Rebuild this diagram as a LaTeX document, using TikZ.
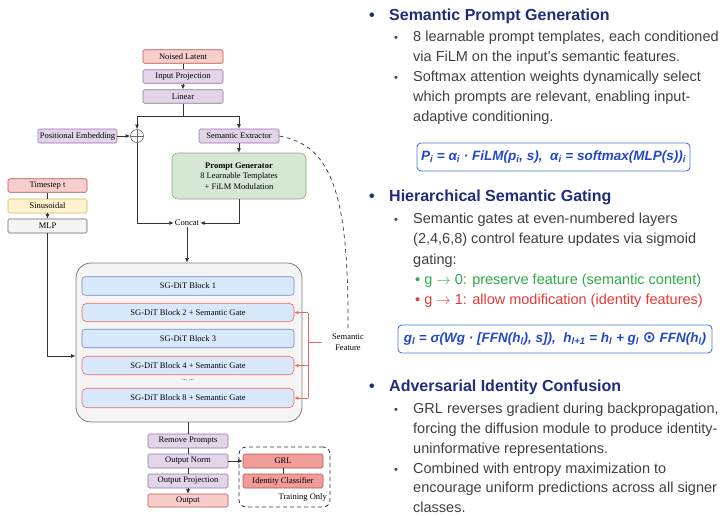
\documentclass[tikz,border=0pt]{standalone}
\usepackage{fontspec}
\setmainfont{Liberation Serif}
\newfontfamily\arial{Liberation Sans}
\newfontfamily\dejavu{DejaVu Sans}
\usetikzlibrary{arrows.meta,calc}
\definecolor{redfill}{HTML}{F8CECC}
\definecolor{reddraw}{HTML}{B85450}
\definecolor{purfill}{HTML}{E1D5E7}
\definecolor{purdraw}{HTML}{9673A6}
\definecolor{grnfill}{HTML}{D5E8D4}
\definecolor{grndraw}{HTML}{82B366}
\definecolor{yelfill}{HTML}{FFF2CC}
\definecolor{yeldraw}{HTML}{D6B656}
\definecolor{gryfill}{HTML}{F5F5F5}
\definecolor{grydraw}{HTML}{666666}
\definecolor{blufill}{HTML}{DAE8FC}
\definecolor{bludraw}{HTML}{6C8EBF}
\definecolor{gatedraw}{HTML}{EA6B66}
\definecolor{grlfill}{HTML}{F19C99}
\definecolor{headc}{HTML}{1F2D7B}
\definecolor{bodyc}{HTML}{404040}
\definecolor{okgreen}{HTML}{2EAA4A}
\definecolor{badred}{HTML}{E53935}
\definecolor{formblue}{HTML}{2447C9}
\definecolor{formbox}{HTML}{4A78D6}
\definecolor{linec}{HTML}{333333}
\begin{document}
\begin{tikzpicture}[x=1pt,y=-1pt,
  sfont/.style={font=\fontsize{8.5}{10.5}\selectfont},
  box/.style={draw, rounded corners=1.5pt, line width=0.6pt, minimum width=80pt, minimum height=13.5pt, inner sep=0pt, sfont},
  redbox/.style={box, fill=redfill, draw=reddraw},
  purbox/.style={box, fill=purfill, draw=purdraw},
  yelbox/.style={box, fill=yelfill, draw=yeldraw},
  grybox/.style={box, fill=gryfill, draw=grydraw},
  grlbox/.style={box, fill=grlfill, draw=reddraw},
  blk/.style={draw=bludraw, fill=blufill, line width=0.6pt, rounded corners=3pt, minimum width=212pt, minimum height=18.5pt, inner sep=0pt, sfont},
  gateblk/.style={blk, draw=gatedraw, rounded corners=5pt},
  ln/.style={draw=linec, line width=0.8pt},
  arr/.style={ln, -{Latex[length=4.5pt,width=4pt]}},
  gl/.style={draw=gatedraw, line width=0.7pt},
  garr/.style={gl, -{Latex[length=4pt,width=3.5pt]}},
  head/.style={anchor=base west, inner sep=0pt, text=headc, font=\arial\bfseries\fontsize{16}{19}\selectfont},
  body/.style={anchor=base west, inner sep=0pt, text=bodyc, font=\arial\fontsize{14.5}{20}\selectfont},
  sbul/.style={anchor=base west, inner sep=0pt, text=bodyc, font=\arial\fontsize{11}{14}\selectfont},
  fbox/.style={draw=formbox, line width=0.9pt, rounded corners=4pt, inner sep=0pt, text=formblue, font=\arial\bfseries\itshape\fontsize{13.5}{16}\selectfont}
]
\useasboundingbox (0,0) rectangle (724,515);

% ---------- left diagram ----------
\node[redbox] (nl) at (183,56.5) {Noised Latent};
\node[purbox] (ip) at (183,76.5) {Input Projection};
\node[purbox] (lin) at (183,96.5) {Linear};
\coordinate (j) at (183,116);
\node[purbox, minimum width=79pt, minimum height=14pt] (pe) at (77.5,136) {Positional Embedding};
\node[circle, draw=grydraw, fill=white, line width=0.6pt, minimum size=13pt, inner sep=0pt,
  path picture={\draw[grydraw, line width=0.6pt] (path picture bounding box.north) -- (path picture bounding box.south) (path picture bounding box.west) -- (path picture bounding box.east);}] (plus) at (137,136) {};
\node[purbox, minimum height=14pt] (se) at (239,136) {Semantic Extractor};
\node[box, fill=grnfill, draw=grndraw, rounded corners=6pt, minimum width=134pt, minimum height=46pt, align=center] (pg) at (239,176)
  {\textbf{Prompt Generator}\\8 Learnable Templates\\+ FiLM Modulation};
\node[sfont, inner sep=1pt] (concat) at (187,223) {Concat};

\node[redbox, minimum width=79pt] (ts) at (47.5,185.5) {Timestep t};
\node[yelbox, minimum width=79pt, minimum height=14pt] (sin) at (47.5,206) {Sinusoidal};
\node[grybox, minimum width=79pt, minimum height=14pt] (mlp) at (47.5,226) {MLP};

\node[draw=grydraw!85, fill=gryfill, line width=0.8pt, rounded corners=15pt, minimum width=226pt, minimum height=159pt, inner sep=0pt] (big) at (189,342.5) {};
\node[blk] (b1) at (188,286) {SG-DiT Block 1};
\node[gateblk] (b2) at (188,312.5) {SG-DiT Block 2 + Semantic Gate};
\node[blk] (b3) at (188,338.5) {SG-DiT Block 3};
\node[gateblk] (b4) at (188,365.5) {SG-DiT Block 4 + Semantic Gate};
\node[font=\fontsize{6.5}{8}\selectfont, inner sep=0pt] (dots) at (188,380.5) {... ...};
\node[gateblk, minimum height=19.5pt] (b8) at (188,398) {SG-DiT Block 8 + Semantic Gate};

\node[purbox, minimum height=14pt] (rp) at (188,441) {Remove Prompts};
\node[purbox, minimum height=14pt] (on) at (188,461) {Output Norm};
\node[purbox, minimum height=14pt] (opj) at (188,481) {Output Projection};
\node[redbox, minimum height=13pt] (out) at (188,500.5) {Output};

\node[draw=linec, dashed, dash pattern=on 4pt off 3pt, line width=0.8pt, rounded corners=7pt, minimum width=91pt, minimum height=60pt, inner sep=0pt] (train) at (284.5,477) {};
\node[grlbox, minimum height=14pt] (grl) at (283,461) {GRL};
\node[grlbox, minimum height=14pt] (ic) at (283,481) {Identity Classifier};
\node[sfont, anchor=east, inner sep=0pt] (tolab) at (327,497) {Training Only};

\node[sfont, align=center, inner sep=0pt, font=\fontsize{8.5}{11}\selectfont] (sf) at (348,342.5) {Semantic\\Feature};

% connectors
\draw[ln] (nl.south) -- (ip.north);
\draw[arr] (ip.south) -- (lin.north);
\draw[ln] (lin.south) -- (j);
\draw[arr] (j) -| (plus.north);
\draw[arr] (j) -| (se.north);
\draw[arr] (pe.east) -- (plus.west);
\draw[arr] (se.south) -- (pg.north);
\draw[arr] (plus.south) |- (concat.west);
\draw[arr] (pg.south) |- (concat.east);
\draw[arr] (concat.south) -- (concat.south |- big.north);
\draw[ln] (ts.south) -- (sin.north);
\draw[arr] (sin.south) -- (mlp.north);
\draw[arr] (mlp.south) |- (big.west |- b4.north);
\draw[ln] (big.south -| rp.north) -- (rp.north);
\draw[ln] (rp.south) -- (on.north);
\draw[ln] (on.south) -- (opj.north);
\draw[arr] (opj.south) -- (out.north);
\draw[arr] (on.east) -- (grl.west);
\draw[ln] (grl.south) -- (ic.north);

\coordinate (gx) at (308,342);
\coordinate (sfin) at (322,342);
\draw[gl] (gx |- b2.east) -- (gx |- b8.east);
\draw[garr] (gx |- b2.east) -- (b2.east);
\draw[garr] (gx |- b4.east) -- (b4.east);
\draw[garr] (gx |- b8.east) -- (b8.east);
\draw[gl] (gx) -- (sfin);
\draw[ln, dashed, dash pattern=on 4pt off 3.5pt, line width=0.7pt] (se.east) .. controls (330,145) and (349,190) .. ([yshift=5pt]sf.north);

% ---------- right text ----------
\node[head] (h1b) at (369,20) {•};
\node[head] (h1) at (389,20) {Semantic Prompt Generation};
\node[sbul] (s1a) at (394,41) {•};
\node[body] (t1a) at (413,41) {8 learnable prompt templates, each conditioned};
\node[body] (t1b) at (413,61) {via FiLM on the input's semantic features.};
\node[sbul] (s1b) at (394,81) {•};
\node[body] (t1c) at (413,81) {Softmax attention weights dynamically select};
\node[body] (t1d) at (413,101.5) {which prompts are relevant, enabling input-};
\node[body] (t1e) at (413,121.5) {adaptive conditioning.};
\node[fbox, minimum width=273pt, minimum height=28pt] (f1) at (553.5,157)
  {P\textsubscript{i} = α\textsubscript{i} · FiLM(p\textsubscript{i}, s),\ \ α\textsubscript{i} = softmax(MLP(s))\textsubscript{i}};

\node[head] (h2b) at (369,201.5) {•};
\node[head] (h2) at (389,201.5) {Hierarchical Semantic Gating};
\node[sbul] (s2a) at (394,223) {•};
\node[body] (t2a) at (413,223) {Semantic gates at even-numbered layers};
\node[body] (t2b) at (413,243.5) {(2,4,6,8) control feature updates via sigmoid};
\node[body] (t2c) at (413,264) {gating:};
\node[body, text=okgreen] (t2d) at (415,284) {• g $\rightarrow$ 0: preserve feature (semantic content)};
\node[body, text=badred] (t2e) at (415,304) {• g $\rightarrow$ 1: allow modification (identity features)};
\node[fbox, minimum width=314pt, minimum height=28pt] (f2) at (555,339)
  {g\textsubscript{l} = σ(Wg · [FFN(h\textsubscript{l}), s]),\ \ h\textsubscript{l+1} = h\textsubscript{l} + g\textsubscript{l} {\dejavu\bfseries\fontsize{15.5}{16}\selectfont ⊙} FFN(h\textsubscript{l})};

\node[head] (h3b) at (369,391.5) {•};
\node[head] (h3) at (389,391.5) {Adversarial Identity Confusion};
\node[sbul] (s3a) at (394,413) {•};
\node[body] (t3a) at (413,413) {GRL reverses gradient during backpropagation,};
\node[body] (t3b) at (413,433) {forcing the diffusion module to produce identity-};
\node[body] (t3c) at (413,453) {uninformative representations.};
\node[sbul] (s3b) at (394,473) {•};
\node[body] (t3d) at (413,473) {Combined with entropy maximization to};
\node[body] (t3e) at (413,492.5) {encourage uniform predictions across all signer};
\node[body] (t3f) at (413,512) {classes.};
\end{tikzpicture}
\end{document}
